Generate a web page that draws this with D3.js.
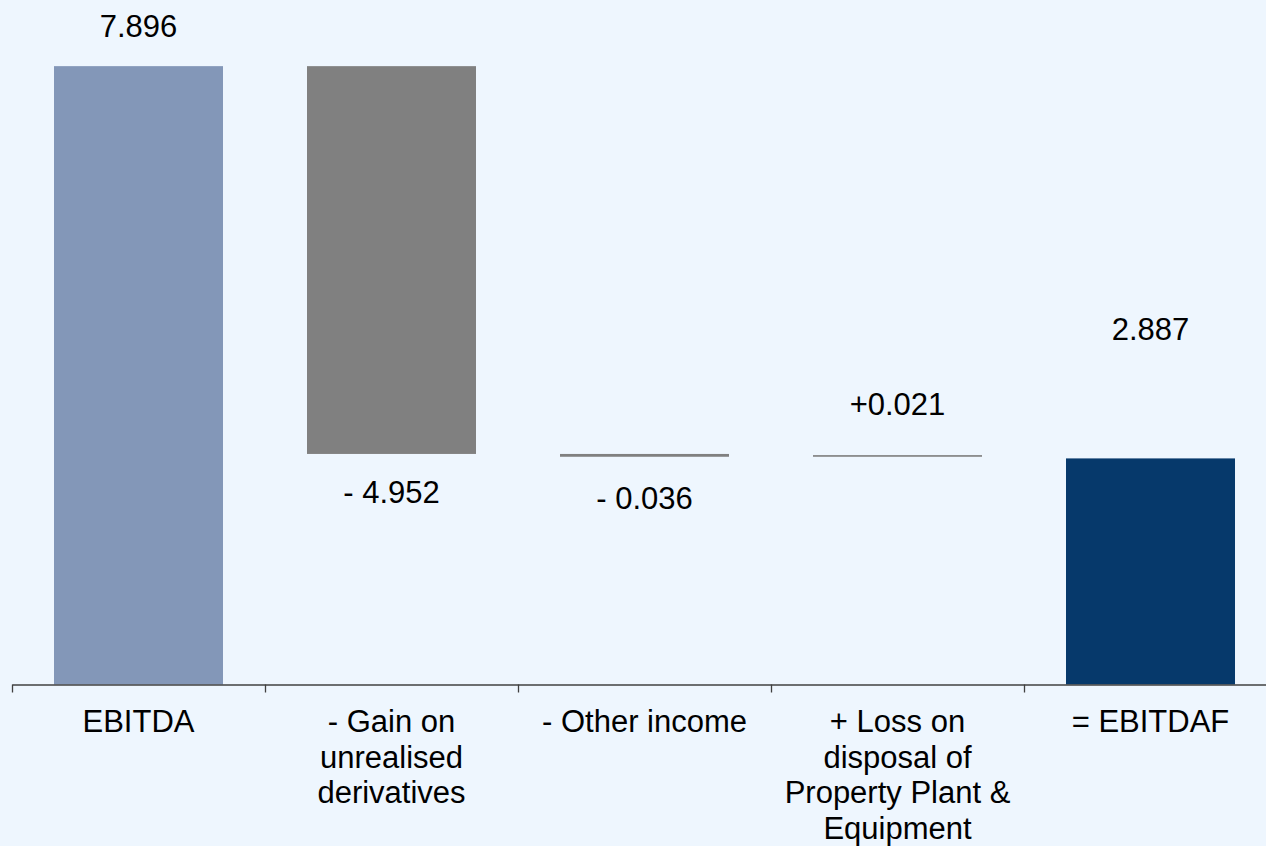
<!DOCTYPE html>
<html>
<head>
<meta charset="utf-8">
<script src="https://cdn.jsdelivr.net/npm/d3@7"></script>
<style>
  body { margin: 0; background: #eef6fe; }
  svg { display: block; font-family: "Liberation Sans", Arial, sans-serif; }
</style>
</head>
<body>
<div id="chart"></div>
<script>
// waterfall data
const categories = ["EBITDA", "- Gain on unrealised derivatives", "- Other income",
  "+ Loss on disposal of Property Plant & Equipment", "= EBITDAF"];
const categoryLines = [
  ["EBITDA"],
  ["- Gain on", "unrealised", "derivatives"],
  ["- Other income"],
  ["+ Loss on", "disposal of", "Property Plant &", "Equipment"],
  ["= EBITDAF"]
];
const values = [7.896, -4.952, -0.036, 0.021, 2.887];
const kinds = ["total", "delta", "delta", "delta", "total"];
const yDomain = [0, 8];

const width = 1266, height = 846;
const colors = { first: "#8397b8", delta: "#808080", last: "#06396b" };

// build bar extents (cumulative for deltas)
let running = 0;
const bars = values.map((v, i) => {
  let y0, y1;
  if (kinds[i] === "total") { y0 = 0; y1 = v; running = v; }
  else { y0 = running; y1 = running + v; running = y1; }
  return { cat: categories[i], value: v, kind: kinds[i], lo: Math.min(y0, y1), hi: Math.max(y0, y1), i: i };
});

const svg = d3.select("#chart").append("svg")
  .attr("width", width).attr("height", height);

svg.append("rect").attr("width", width).attr("height", height).attr("fill", "#eef6fe");

const x = d3.scaleBand()
  .domain(categories)
  .range([12, 1277])
  .paddingInner(0.332)
  .paddingOuter(0.166);

const y = d3.scaleLinear()
  .domain(yDomain)
  .range([684.5, 58]);

// bars
svg.append("g").selectAll("rect")
  .data(bars)
  .join("rect")
  .attr("x", d => x(d.cat))
  .attr("width", x.bandwidth())
  .attr("y", d => y(d.hi))
  .attr("height", d => Math.max(1.5, y(d.lo) - y(d.hi)))
  .attr("fill", d => d.i === 0 ? colors.first : (d.i === bars.length - 1 ? colors.last : colors.delta));

// axis with ticks at band edges
const edge = d3.scaleLinear().domain([0, categories.length]).range([12, 1277]);
svg.append("g")
  .attr("transform", `translate(0,${y(0)})`)
  .call(d3.axisBottom(edge).tickValues(d3.range(categories.length + 1)).tickFormat("").tickSize(8).tickSizeOuter(0))
  .call(g => g.selectAll("path, line").attr("stroke", "#404040").attr("stroke-width", 1.3));

// category labels
const cat = svg.append("g").selectAll("text")
  .data(categoryLines)
  .join("text")
  .attr("text-anchor", "middle")
  .attr("font-size", 31)
  .attr("fill", "#000")
  .attr("x", (d, i) => x(categories[i]) + x.bandwidth() / 2)
  .attr("y", 732);
cat.selectAll("tspan")
  .data(d => d)
  .join("tspan")
  .attr("x", function () { return d3.select(this.parentNode).attr("x"); })
  .attr("dy", (d, j) => j === 0 ? 0 : 35.5)
  .text(d => d);

// value labels
const fmt = d3.format(".3f");
const labelGap = [29, 49, 52, 40, 118];
svg.append("g").selectAll("text")
  .data(bars)
  .join("text")
  .attr("text-anchor", "middle")
  .attr("font-size", 31)
  .attr("fill", "#000")
  .attr("x", d => x(d.cat) + x.bandwidth() / 2)
  .attr("y", d => d.kind === "delta" && d.value < 0 ? y(d.lo) + labelGap[d.i] : y(d.hi) - labelGap[d.i])
  .text(d => d.kind === "total" ? fmt(d.value) : (d.value < 0 ? "- " + fmt(-d.value) : "+" + fmt(d.value)));
</script>
</body>
</html>
